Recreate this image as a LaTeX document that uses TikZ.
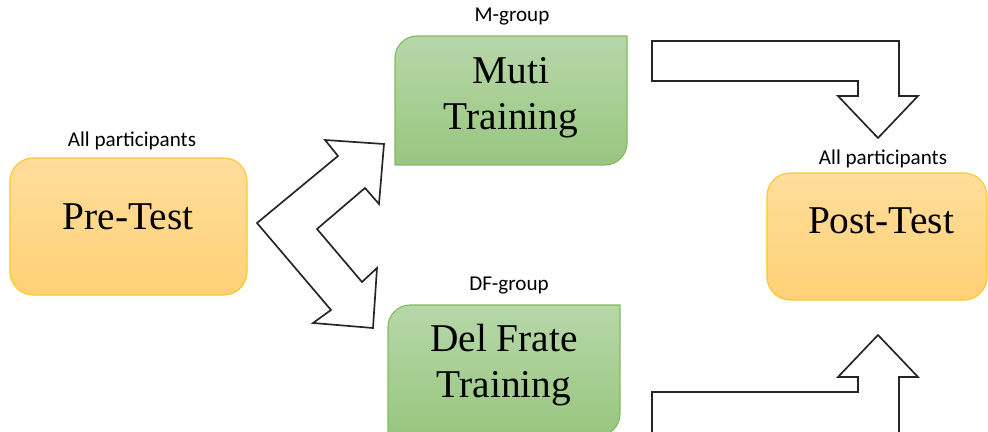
\documentclass[tikz,border=0pt]{standalone}
\usepackage{fontspec}
\setmainfont{Liberation Serif}
\newfontfamily\labelfont{Carlito}

\definecolor{testTop}{HTML}{FFDD9C}
\definecolor{testBottom}{HTML}{FFD176}
\definecolor{testLine}{HTML}{FFC72C}
\definecolor{groupTop}{HTML}{B7D7A9}
\definecolor{groupBottom}{HTML}{98C67F}
\definecolor{groupLine}{HTML}{82BA62}

\def \cornerSize {0.58cm}
\def \arrowWidth {1.2pt}

\tikzset{
   testbox/.style={rectangle, rounded corners=\cornerSize, draw=testLine, line width=0.8pt,
      top color=testTop, bottom color=testBottom, inner sep=0pt},
   groupbox/.style={draw=groupLine, line width=0.8pt, top color=groupTop, bottom color=groupBottom},
   bigtext/.style={font=\fontsize{28}{33}\selectfont, align=center, inner sep=0pt},
   grouplabel/.style={font=\labelfont\fontsize{15}{18}\selectfont, inner sep=0pt, anchor=base},
   blockarrow/.style={draw=black!85, fill=white, line width=\arrowWidth, line join=miter}
}

\begin{document}
\begin{tikzpicture}[x=0.025cm, y=-0.025cm]
   \useasboundingbox (0,0) rectangle (988,432);

   \node[testbox, minimum width=5.925cm, minimum height=3.425cm] (pre) at (128.5,226.5) {};
   \node[bigtext, anchor=base] (preText) at (128,230) {Pre-Test};
   \node[grouplabel] (preLabel) at (132,147) {All participants};

   \node[testbox, minimum width=5.5cm, minimum height=3.175cm] (post) at (877,236.5) {};
   \node[bigtext, anchor=base] (postText) at (881,234) {Post-Test};
   \node[grouplabel] (postLabel) at (883,165) {All participants};

   \path[groupbox] (511,36) -- (627,36) -- (627,143) .. controls (627,155.1) and (617.1,165) .. (605,165)
      -- (395,165) -- (395,58) .. controls (395,45.9) and (404.9,36) .. (417,36) -- cycle;
   \node[bigtext, anchor=base] (mutiText) at (511,130) {Muti\\Training};
   \node[grouplabel] (mLabel) at (512,22) {M-group};

   \path[groupbox] (504,305) -- (620,305) -- (620,414) .. controls (620,426.1) and (610.1,436) .. (598,436)
      -- (388,436) -- (388,327) .. controls (388,314.9) and (397.9,305) .. (410,305) -- cycle;
   \node[bigtext, anchor=base] (delText) at (504,398) {Del Frate\\Training};
   \node[grouplabel] (dfLabel) at (509,291) {DF-group};

   \draw[blockarrow] (257,223) -- (338,156) -- (325,140) -- (384,144) -- (379,204) -- (365,188)
      -- (317,229) -- (362,282) -- (377,268) -- (373,328) -- (313,323) -- (331,310) -- cycle;
   \draw[blockarrow] (652,41) -- (899,41) -- (899,96) -- (918,96) -- (878,138) -- (838,96)
      -- (858,96) -- (858,81) -- (652,81) -- cycle;
   \draw[blockarrow] (652,440) -- (652,392) -- (858,392) -- (858,377) -- (838,377) -- (878,335)
      -- (918,377) -- (899,377) -- (899,440);
\end{tikzpicture}
\end{document}
